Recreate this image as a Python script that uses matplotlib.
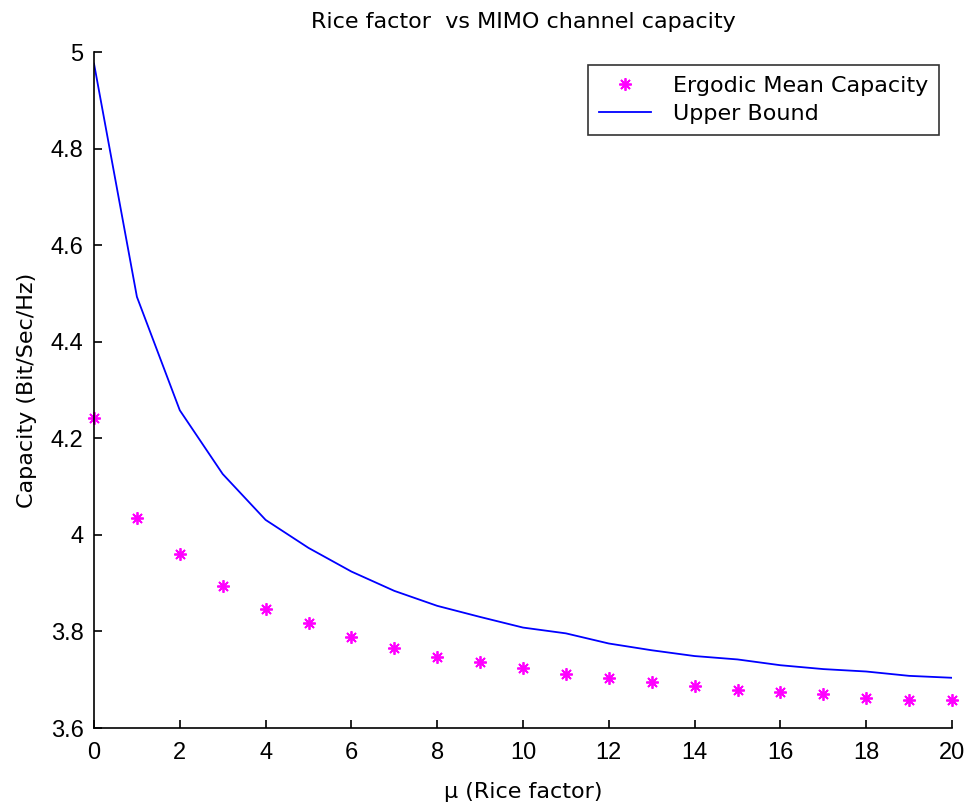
import numpy as np
import matplotlib
matplotlib.use('Agg')
import matplotlib.pyplot as plt

# rice factor values
mu = list(range(0, 21))

# ergodic mean capacity (markers)
ergodic = [4.243, 4.035, 3.961, 3.895, 3.846, 3.817, 3.789, 3.765, 3.748, 3.736,
           3.724, 3.711, 3.703, 3.695, 3.687, 3.679, 3.674, 3.670, 3.662, 3.658, 3.658]

# upper bound (line)
upper = [4.976, 4.493, 4.258, 4.126, 4.031, 3.973, 3.924, 3.884, 3.853, 3.830,
         3.808, 3.796, 3.775, 3.761, 3.749, 3.742, 3.730, 3.722, 3.717, 3.708, 3.704]

xticks = list(range(0, 21, 2))
yticks = [3.6, 3.8, 4.0, 4.2, 4.4, 4.6, 4.8, 5.0]
ytick_labels = ['3.6', '3.8', '4', '4.2', '4.4', '4.6', '4.8', '5']

plt.rcParams['font.family'] = ['DejaVu Sans']

fig = plt.figure(figsize=(9.7, 8.05), dpi=100)
ax = fig.add_axes([94 / 970, 1 - 728 / 805, 858 / 970, 676 / 805])

ax.plot(mu, ergodic, linestyle='none', marker=(8, 2, 0), markersize=9,
        markeredgewidth=1.3, color='#ff00ff', label='Ergodic Mean Capacity',
        clip_on=False)
ax.plot(mu, upper, color='#0000ff', linewidth=1.3, label='Upper Bound')

ax.set_xlim(0, 20)
ax.set_ylim(3.6, 5.0)
ax.set_xticks(xticks)
ax.set_yticks(yticks)
ax.set_yticklabels(ytick_labels)

ax.spines['top'].set_visible(False)
ax.spines['right'].set_visible(False)
for s in ['left', 'bottom']:
    ax.spines[s].set_linewidth(1.2)
ax.tick_params(direction='in', length=6, width=1.2, pad=7.5)
ax.tick_params(axis='x', pad=10)
for lbl in ax.get_xticklabels() + ax.get_yticklabels():
    lbl.set_fontfamily(['Liberation Sans', 'DejaVu Sans'])
    lbl.set_fontsize(17)

ax.set_xlabel('\u03bc (Rice factor)', fontsize=16, labelpad=13)
ax.set_ylabel('Capacity (Bit/Sec/Hz)', fontsize=16, labelpad=10)
ax.set_title('Rice factor  vs MIMO channel capacity', fontsize=16, pad=17)

leg = ax.legend(loc='upper right', bbox_to_anchor=(0.985, 0.981), borderaxespad=0,
                fontsize=16, frameon=True, fancybox=False, handlelength=2.3,
                handletextpad=1.0, labelspacing=0.35, borderpad=0.5)
leg.get_frame().set_edgecolor('black')
leg.get_frame().set_linewidth(1.2)

fig.savefig('out.png', dpi=100)
